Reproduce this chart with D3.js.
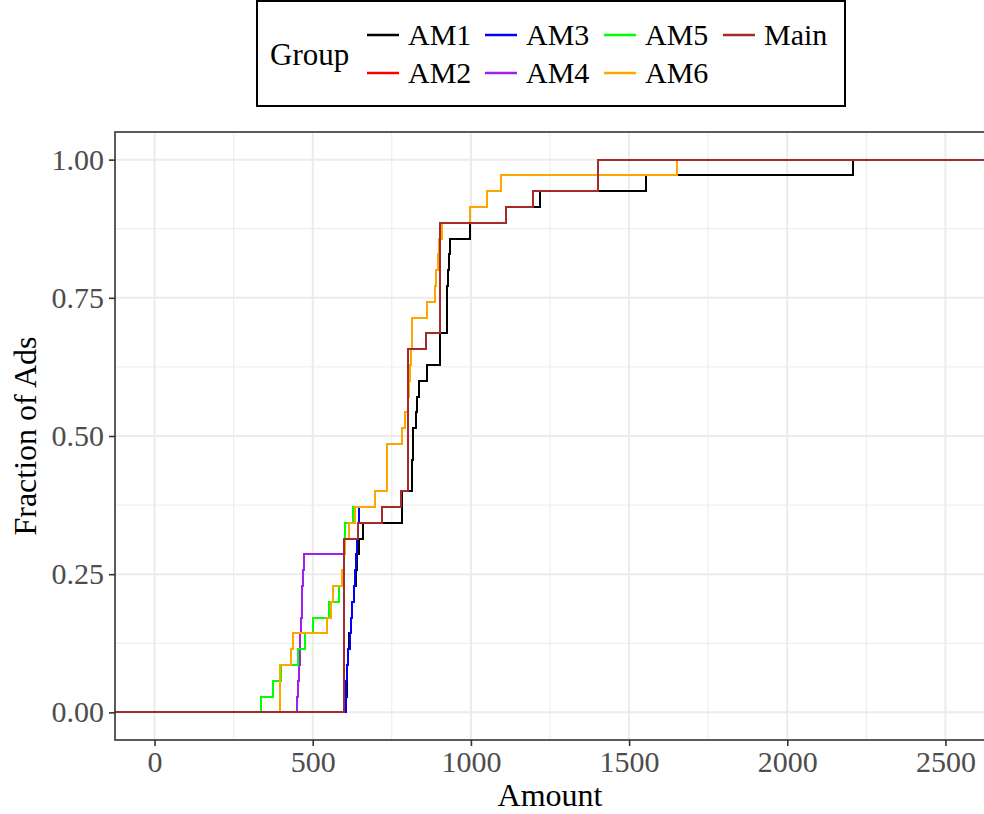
<!DOCTYPE html>
<html><head><meta charset="utf-8">
<script src="https://cdn.jsdelivr.net/npm/d3@7"></script>
<style>
body{margin:0;background:#fff}
svg{display:block}
text{font-family:"Liberation Serif","Times New Roman",Times,serif}
</style>
</head><body>
<svg id="chart" width="984" height="814"></svg>
<script>
// ---------- data (n = 35 ads per group) ----------
const groups = ["AM1","AM2","AM3","AM4","AM5","AM6","Main"];
const groupColors = ["#000000","#FF0000","#0000FF","#A020F0","#00FF00","#FFA500","#A52A2A"];

const am1 = [606,607,609,612,614,620,625,630,637,640,645,658,781,781,813,814,816,818,825,829,836,860,902,902,924,924,924,928,931,934,997,1111,1219,1553,2208];
const am2 = [600,600,600,600,600,600,600,600,600,600,600,643,718,779,800,800,800,800,800,800,800,800,800,857,902,902,902,902,902,902,902,1110,1197,1401,1401];
const am3 = [604,605,608,610,617,620,624,630,635,638,640,642,645,698,735,735,735,781,792,800,803,806,810,813,815,860,887,890,895,900,908,997,1050,1094,1651];
const am4 = [450,455,457,459,461,463,465,467,469,471,600,643,718,779,800,800,800,800,800,800,800,800,800,857,902,902,902,902,902,902,902,1110,1197,1401,1401];
const am5 = [336,374,399,455,476,502,550,583,595,598,600,603,628,698,735,735,735,781,792,800,803,806,810,813,815,860,887,890,895,900,908,997,1050,1094,1651];
const am6 = [397,397,397,431,439,544,558,565,592,598,603,614,635,698,735,735,735,781,792,800,803,806,810,813,815,860,887,890,895,900,908,997,1050,1094,1651];
const mainGroup = [600,600,600,600,600,600,600,600,600,600,600,643,718,779,800,800,800,800,800,800,800,800,800,857,902,902,902,902,902,902,902,1110,1197,1401,1401];
const seriesValues = [am1, am2, am3, am4, am5, am6, mainGroup];

const xTicks = [0,500,1000,1500,2000,2500];
const xTickLabels = ["0","500","1000","1500","2000","2500"];
const xMinor = [250,750,1250,1750,2250];
const yTicks = [0,0.25,0.5,0.75,1];
const yTickLabels = ["0.00","0.25","0.50","0.75","1.00"];
const yMinor = [0.125,0.375,0.625,0.875];

// ---------- layout ----------
const svg = d3.select("#chart");
const P = {l:115, r:985, t:132, b:740};
const x = d3.scaleLinear().domain([-125, 2625]).range([P.l, P.r]);
const y = d3.scaleLinear().domain([-0.05, 1.05]).range([P.b, P.t]);

svg.append("rect").attr("width",984).attr("height",814).attr("fill","#fff");

// grid
const grid = svg.append("g");
grid.selectAll(".xm").data(xMinor).join("line")
  .attr("x1",d=>x(d)).attr("x2",d=>x(d)).attr("y1",P.t).attr("y2",P.b)
  .attr("stroke","#EBEBEB").attr("stroke-width",1);
grid.selectAll(".ym").data(yMinor).join("line")
  .attr("y1",d=>y(d)).attr("y2",d=>y(d)).attr("x1",P.l).attr("x2",P.r)
  .attr("stroke","#EBEBEB").attr("stroke-width",1);
grid.selectAll(".xM").data(xTicks).join("line")
  .attr("x1",d=>x(d)).attr("x2",d=>x(d)).attr("y1",P.t).attr("y2",P.b)
  .attr("stroke","#EBEBEB").attr("stroke-width",2);
grid.selectAll(".yM").data(yTicks).join("line")
  .attr("y1",d=>y(d)).attr("y2",d=>y(d)).attr("x1",P.l).attr("x2",P.r)
  .attr("stroke","#EBEBEB").attr("stroke-width",2);

// clip
svg.append("clipPath").attr("id","clip").append("rect")
  .attr("x",P.l).attr("y",P.t).attr("width",P.r-P.l).attr("height",P.b-P.t);

// ECDF steps
function ecdfPoints(vals){
  const s = vals.slice().sort(d3.ascending);
  const n = s.length;
  const pts = [[x.domain()[0], 0]];
  const uniq = Array.from(new Set(s));
  uniq.forEach(v => pts.push([v, d3.bisectRight(s, v) / n]));
  pts.push([x.domain()[1], 1]);
  return pts;
}
const line = d3.line().x(d=>x(d[0])).y(d=>y(d[1])).curve(d3.curveStepAfter);
const lines = svg.append("g").attr("clip-path","url(#clip)");
groups.forEach((g,i)=>{
  lines.append("path").datum(ecdfPoints(seriesValues[i]))
    .attr("d", line).attr("fill","none")
    .attr("stroke", groupColors[i]).attr("stroke-width",2)
    .attr("shape-rendering","crispEdges")
    .attr("stroke-linejoin","miter");
});

// panel border
svg.append("rect").attr("x",P.l).attr("y",P.t).attr("width",P.r-P.l).attr("height",P.b-P.t)
  .attr("fill","none").attr("stroke","#333333").attr("stroke-width",1.6);

// axes
const xAxis = svg.append("g").attr("transform",`translate(0,${P.b})`)
  .call(d3.axisBottom(x).tickValues(xTicks).tickFormat((d,i)=>xTickLabels[i]).tickSize(6).tickPadding(5));
const yAxis = svg.append("g").attr("transform",`translate(${P.l},0)`)
  .call(d3.axisLeft(y).tickValues(yTicks).tickFormat((d,i)=>yTickLabels[i]).tickSize(6).tickPadding(5));
[xAxis,yAxis].forEach(a=>{
  a.select(".domain").remove();
  a.selectAll(".tick line").attr("stroke","#333333").attr("stroke-width",1.6);
  a.selectAll(".tick text").attr("fill","#4D4D4D").style("font-size","30px")
    .style("font-family",'"Liberation Serif","Times New Roman",serif');
});

// axis titles
svg.append("text").attr("x",(P.l+P.r)/2).attr("y",806).attr("text-anchor","middle")
  .style("font-size","32px").attr("fill","#000").text("Amount");
svg.append("text").attr("transform",`translate(36,${(P.t+P.b)/2}) rotate(-90)`)
  .attr("text-anchor","middle").style("font-size","32px").attr("fill","#000").text("Fraction of Ads");

// legend
const lg = svg.append("g");
lg.append("rect").attr("x",257).attr("y",1).attr("width",588).attr("height",105)
  .attr("fill","#fff").attr("stroke","#000").attr("stroke-width",2);
lg.append("text").attr("x",270).attr("y",65).style("font-size","31px").text("Group");
const colX = [367,485,604,723];
const rowY = [35,73];
groups.forEach((g,i)=>{
  let col, row;
  if (i < 6) { col = Math.floor(i/2); row = i%2; } else { col = 3; row = 0; }
  const kx = colX[col], ky = rowY[row];
  lg.append("line").attr("x1",kx).attr("x2",kx+32).attr("y1",ky).attr("y2",ky)
    .attr("stroke",groupColors[i]).attr("stroke-width",2.5);
  lg.append("text").attr("x",kx+41).attr("y",ky+10).style("font-size","30px").text(g);
});
</script>
</body></html>
